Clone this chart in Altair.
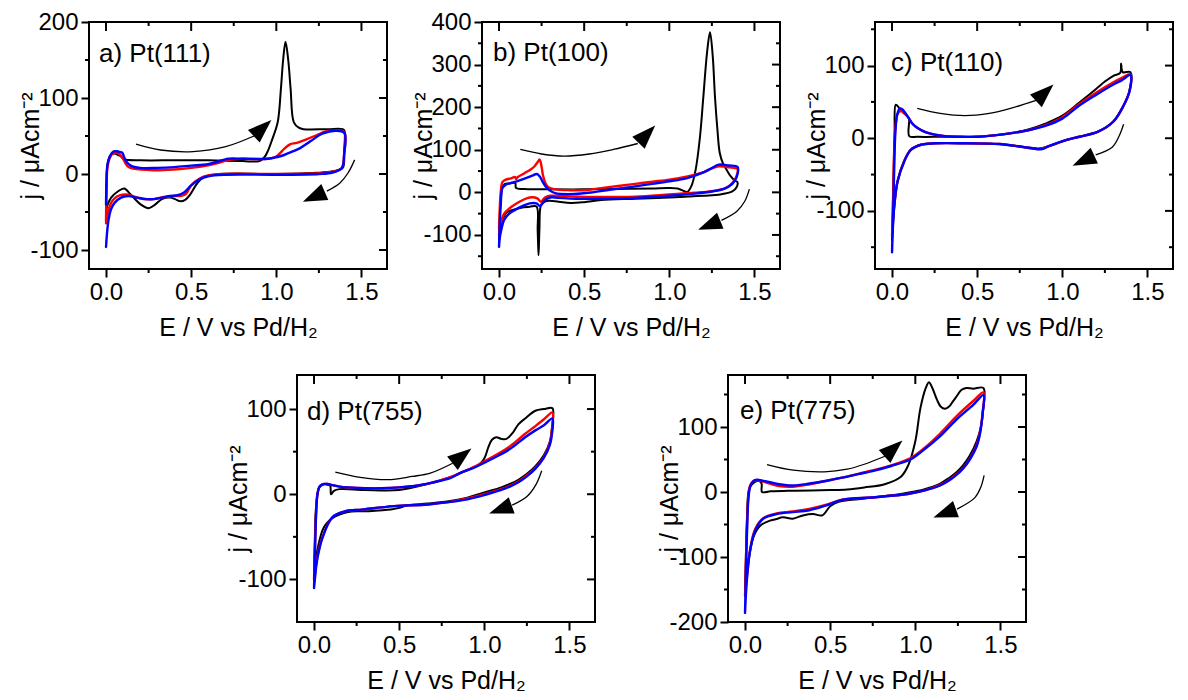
import altair as alt
import pandas as pd

FONT = "Liberation Sans"
W, H = 298, 247

X_DOMAIN = [-0.1, 1.65]
X_MAJOR = [0.0, 0.5, 1.0, 1.5]
X_MINOR = [0.25, 0.75, 1.25]
X_TITLE = "E / V vs Pd/H₂"
Y_TITLE = "j / μAcm⁻²"

PANEL_LABELS = ["a) Pt(111)", "b) Pt(100)", "c) Pt(110)", "d) Pt(755)", "e) Pt(775)"]
Y_DOMAINS = [[-125, 200], [-180, 400], [-180, 160], [-150, 140], [-200, 180]]
Y_MAJOR = [[-100, 0, 100, 200], [-100, 0, 100, 200, 300, 400], [-100, 0, 100],
           [-100, 0, 100], [-200, -100, 0, 100]]
Y_MINOR = [[-50, 50, 150], [-150, -50, 50, 150, 250, 350], [-150, -50, 50, 150],
           [-50, 50], [-150, -50, 50, 150]]

# ---------------- panel a) Pt(111) : (E, j) loops, anodic then cathodic
A_BLACK = [(0.0, -45), (0.003, -10), (0.008, 12), (0.02, 22), (0.035, 26), (0.05, 27), (0.07, 25),
           (0.088, 23), (0.1, 20), (0.107, 19), (0.2, 18), (0.4, 18), (0.6, 18), (0.8, 17), (0.9, 17),
           (0.93, 22), (0.95, 30), (0.975, 45), (1.008, 68), (1.027, 112), (1.04, 150), (1.054, 174),
           (1.07, 150), (1.084, 112), (1.103, 68), (1.132, 61), (1.16, 59), (1.3, 59), (1.39, 59),
           (1.4, 57),
           (1.398, 30), (1.39, 8), (1.33, 3.5), (1.235, 1.5), (1.0, 0), (0.66, 0), (0.567, -5),
           (0.53, -14), (0.494, -27), (0.465, -34), (0.437, -36), (0.405, -33), (0.376, -31),
           (0.328, -33), (0.29, -40), (0.251, -45), (0.203, -40), (0.145, -27), (0.107, -19),
           (0.069, -23), (0.03, -31), (0.01, -40), (0.0, -48)]
A_RED = [(0.0, -62), (0.003, -20), (0.008, 8), (0.02, 20), (0.035, 26), (0.05, 28), (0.065, 28),
         (0.08, 26), (0.1, 20), (0.127, 10), (0.16, 7), (0.28, 5), (0.4, 6), (0.5, 8), (0.567, 10),
         (0.65, 14), (0.72, 18.6), (0.8, 20), (0.95, 20), (1.0, 23), (1.046, 33), (1.08, 39),
         (1.12, 41), (1.18, 46), (1.236, 51), (1.29, 56), (1.33, 57), (1.37, 57), (1.4, 55),
         (1.398, 25), (1.385, 8), (1.33, 3), (1.25, 1), (1.0, 0), (0.7, 0), (0.6, -2), (0.55, -6),
         (0.5, -15), (0.47, -26), (0.437, -29), (0.4, -29), (0.36, -30), (0.32, -31), (0.28, -33),
         (0.22, -33), (0.17, -30), (0.12, -27), (0.08, -28), (0.05, -32), (0.03, -38), (0.012, -50),
         (0.0, -65)]
A_BLUE = [(0.0, -40), (0.003, -8), (0.008, 12), (0.02, 22), (0.035, 28), (0.05, 30), (0.065, 30),
          (0.08, 29), (0.095, 28), (0.105, 23), (0.12, 16), (0.145, 11), (0.2, 8), (0.3, 8), (0.4, 9),
          (0.5, 11), (0.6, 13), (0.72, 20), (0.8, 20), (0.95, 20), (1.0, 22), (1.046, 25), (1.1, 30),
          (1.14, 34), (1.2, 43), (1.27, 53), (1.35, 57), (1.4, 54),
          (1.398, 25), (1.385, 8), (1.33, 2), (1.25, 0), (1.0, -1), (0.7, -1), (0.6, -3), (0.55, -7),
          (0.5, -15), (0.46, -24), (0.42, -28), (0.376, -29), (0.33, -31), (0.28, -33), (0.24, -33),
          (0.18, -31), (0.13, -29), (0.088, -31), (0.05, -38), (0.03, -46), (0.015, -60),
          (0.005, -80), (0.0, -96)]

# ---------------- panel b) Pt(100)
B_BLACK = [(0.0, -110), (0.004, -60), (0.01, -20), (0.02, 12), (0.035, 20), (0.06, 21), (0.095, 22),
           (0.1, 10), (0.15, 8), (0.3, 7), (0.5, 7), (0.7, 8), (0.9, 9), (1.0, 10), (1.057, 8),
           (1.085, 3), (1.106, 1), (1.13, 15), (1.155, 54), (1.18, 130), (1.2, 225), (1.222, 330),
           (1.239, 376), (1.255, 320), (1.268, 225), (1.282, 150), (1.296, 93), (1.315, 68),
           (1.335, 54), (1.36, 38), (1.383, 28), (1.4, 24),
           (1.395, 12), (1.37, 2), (1.3, -5), (1.2, -8), (1.0, -12), (0.8, -15), (0.6, -18),
           (0.5, -23), (0.42, -25), (0.35, -22), (0.29, -20), (0.26, -24), (0.245, -32),
           (0.237, -90), (0.232, -148), (0.227, -90), (0.22, -33), (0.18, -34), (0.13, -36),
           (0.09, -40), (0.05, -46), (0.02, -62), (0.006, -90), (0.0, -112)]
B_RED = [(0.0, -85), (0.004, -40), (0.01, 0), (0.02, 24), (0.04, 30), (0.07, 33), (0.095, 36),
         (0.1, 31), (0.11, 36), (0.15, 45), (0.19, 55), (0.21, 62), (0.225, 70), (0.239, 77),
         (0.25, 60), (0.258, 40), (0.272, 22), (0.29, 12), (0.33, 7), (0.42, 5), (0.5, 5), (0.6, 10),
         (0.7, 15), (0.8, 20), (0.9, 25), (1.0, 30), (1.1, 37), (1.2, 47), (1.25, 56), (1.29, 61),
         (1.35, 59), (1.4, 55),
         (1.395, 38), (1.37, 22), (1.33, 10), (1.25, 3), (1.15, -1), (1.0, -5), (0.8, -10),
         (0.6, -11), (0.45, -10), (0.35, -8), (0.3, -8), (0.27, -12), (0.245, -22), (0.225, -14),
         (0.18, -12), (0.14, -18), (0.1, -27), (0.06, -38), (0.03, -50), (0.015, -65),
         (0.005, -80), (0.0, -100)]
B_BLUE = [(0.0, -128), (0.004, -80), (0.01, -30), (0.02, 10), (0.04, 18), (0.07, 22), (0.1, 25),
          (0.15, 32), (0.2, 40), (0.222, 43), (0.238, 38), (0.255, 26), (0.275, 13), (0.3, 4),
          (0.33, -2), (0.44, -4), (0.55, 0), (0.65, 6), (0.8, 14), (0.9, 20), (1.0, 26), (1.1, 33),
          (1.2, 47), (1.25, 57), (1.29, 65), (1.35, 63), (1.4, 60),
          (1.395, 35), (1.37, 20), (1.32, 8), (1.25, 2), (1.15, -3), (1.0, -8), (0.8, -13),
          (0.6, -15), (0.45, -15), (0.35, -13), (0.3, -12), (0.27, -18), (0.24, -32), (0.22, -26),
          (0.18, -26), (0.14, -32), (0.1, -40), (0.06, -50), (0.03, -65), (0.015, -85),
          (0.005, -105), (0.0, -128)]

# ---------------- panel c) Pt(110)
C_BLACK = [(0.0, -140), (0.004, -100), (0.01, -40), (0.015, 10), (0.021, 46), (0.03, 45), (0.05, 39),
           (0.071, 34), (0.09, 30), (0.1, 27), (0.101, 3), (0.15, 2), (0.3, 2), (0.5, 2), (0.6, 4),
           (0.7, 7), (0.8, 12), (0.9, 20), (1.0, 31), (1.1, 49), (1.2, 68), (1.25, 78), (1.3, 86),
           (1.34, 90), (1.345, 103), (1.355, 91), (1.4, 91),
           (1.395, 66), (1.36, 45), (1.3, 23), (1.21, 9), (1.1, 2), (1.03, -2), (0.92, -11),
           (0.86, -14), (0.77, -12), (0.63, -8), (0.44, -7), (0.25, -7), (0.17, -9), (0.11, -16),
           (0.07, -32), (0.033, -59), (0.014, -91), (0.004, -125), (0.0, -140)]
C_RED = [(0.0, -135), (0.004, -110), (0.008, -60), (0.014, -10), (0.022, 20), (0.032, 33),
         (0.045, 37), (0.06, 37), (0.08, 33), (0.1, 27), (0.12, 20), (0.15, 14), (0.2, 8), (0.3, 3),
         (0.4, 2), (0.5, 2), (0.6, 4), (0.7, 7), (0.8, 11), (0.9, 18), (1.0, 29), (1.1, 47),
         (1.2, 63), (1.3, 77), (1.35, 83), (1.4, 88),
         (1.395, 65), (1.36, 45), (1.3, 23), (1.21, 9), (1.1, 2), (1.03, -2), (0.92, -11),
         (0.86, -15), (0.77, -12), (0.63, -8), (0.44, -7), (0.25, -7), (0.17, -9), (0.11, -16),
         (0.07, -32), (0.033, -59), (0.014, -91), (0.004, -118), (0.0, -135)]
C_BLUE = [(0.0, -157), (0.004, -128), (0.008, -90), (0.013, -40), (0.02, 10), (0.03, 32),
          (0.045, 41), (0.06, 40), (0.08, 34), (0.1, 27), (0.12, 20), (0.15, 14), (0.2, 8), (0.3, 3),
          (0.4, 2), (0.5, 2), (0.6, 4), (0.7, 7), (0.8, 11), (0.9, 17), (1.0, 27), (1.1, 45),
          (1.2, 60), (1.3, 74), (1.35, 80), (1.4, 87),
          (1.395, 65), (1.36, 45), (1.3, 23), (1.21, 9), (1.1, 2), (1.03, -2), (0.92, -11),
          (0.884, -15), (0.77, -12), (0.63, -8), (0.44, -7), (0.25, -7), (0.17, -9), (0.11, -16),
          (0.072, -32), (0.033, -59), (0.014, -91), (0.004, -128), (0.0, -157)]

# ---------------- panel d) Pt(755)
D_BLACK = [(0.0, -95), (0.005, -50), (0.01, -20), (0.02, 0), (0.03, 8), (0.045, 11), (0.06, 12),
           (0.08, 11), (0.095, 10), (0.1, 0), (0.117, 4), (0.15, 6), (0.3, 5), (0.5, 5), (0.665, 12),
           (0.8, 20), (0.86, 25), (0.92, 30), (0.97, 35), (1.0, 42), (1.025, 56), (1.045, 64),
           (1.07, 67), (1.1, 65), (1.13, 65), (1.17, 73), (1.2, 82), (1.24, 89), (1.3, 98),
           (1.35, 100), (1.4, 101),
           (1.398, 80), (1.385, 62), (1.35, 46), (1.3, 33), (1.25, 24), (1.2, 17), (1.15, 12),
           (1.1, 8), (1.0, 2), (0.9, -4), (0.8, -8), (0.665, -11), (0.55, -13), (0.5, -16),
           (0.45, -18), (0.38, -19), (0.3, -20), (0.25, -20), (0.2, -21), (0.15, -24), (0.108, -28),
           (0.07, -35), (0.05, -42), (0.025, -60), (0.012, -75), (0.0, -95)]
D_RED = [(0.0, -100), (0.004, -70), (0.008, -45), (0.013, -18), (0.02, 0), (0.03, 8), (0.045, 11),
         (0.06, 12), (0.08, 12), (0.1, 11), (0.15, 9), (0.2, 8), (0.3, 7), (0.4, 7), (0.5, 8),
         (0.6, 10), (0.7, 14), (0.8, 20), (0.86, 25), (0.95, 33), (1.05, 44), (1.15, 56), (1.24, 71),
         (1.3, 80), (1.35, 88), (1.4, 96),
         (1.398, 78), (1.385, 60), (1.35, 44), (1.3, 31), (1.25, 22), (1.2, 15), (1.15, 10),
         (1.1, 6), (1.0, 0), (0.9, -5), (0.8, -9), (0.665, -12), (0.47, -14), (0.28, -18),
         (0.185, -20), (0.108, -27), (0.05, -50), (0.025, -68), (0.012, -82), (0.005, -95),
         (0.0, -100)]
D_BLUE = [(0.0, -110), (0.004, -80), (0.008, -50), (0.013, -20), (0.02, 0), (0.03, 8), (0.045, 11),
          (0.06, 12), (0.08, 12), (0.1, 11), (0.15, 9), (0.2, 8), (0.3, 7), (0.4, 7), (0.5, 8),
          (0.6, 10), (0.7, 14), (0.8, 19), (0.86, 25), (0.95, 32), (1.05, 42), (1.15, 53),
          (1.24, 67), (1.3, 75), (1.35, 81), (1.4, 89),
          (1.398, 72), (1.385, 58), (1.35, 43), (1.3, 30), (1.25, 21), (1.2, 14), (1.15, 9),
          (1.1, 5), (1.0, -1), (0.9, -6), (0.8, -9), (0.665, -12), (0.47, -14), (0.28, -18),
          (0.185, -20), (0.108, -27), (0.05, -51), (0.025, -70), (0.012, -86), (0.005, -100),
          (0.0, -110)]

# ---------------- panel e) Pt(775)
E_BLACK = [(0.0, -150), (0.005, -100), (0.01, -50), (0.02, 0), (0.03, 8), (0.05, 14), (0.07, 17),
           (0.09, 16), (0.098, 12), (0.1, 0), (0.15, 1), (0.3, 2), (0.5, 3), (0.6, 4), (0.7, 7),
           (0.82, 12), (0.917, 24), (0.96, 42), (1.0, 78), (1.03, 129), (1.06, 159), (1.08, 169),
           (1.1, 160), (1.127, 142), (1.15, 131), (1.175, 128), (1.2, 132), (1.22, 139), (1.25, 150),
           (1.27, 157), (1.3, 160), (1.34, 159), (1.4, 160),
           (1.398, 125), (1.385, 100), (1.36, 78), (1.32, 56), (1.28, 41), (1.24, 30), (1.2, 22),
           (1.146, 13), (1.05, 4), (0.955, -1), (0.8, -7), (0.665, -11), (0.55, -15), (0.5, -22),
           (0.454, -36), (0.4, -34), (0.34, -36), (0.28, -41), (0.223, -39), (0.18, -42),
           (0.146, -44), (0.089, -52), (0.05, -69), (0.015, -115), (0.0, -160)]
E_RED = [(0.0, -160), (0.004, -120), (0.008, -80), (0.013, -40), (0.02, -5), (0.03, 10), (0.05, 17),
         (0.069, 18), (0.09, 17), (0.146, 13), (0.2, 9), (0.28, 8), (0.38, 12), (0.473, 17),
         (0.57, 22), (0.665, 28), (0.76, 34), (0.858, 41), (0.97, 52), (1.05, 67), (1.146, 90),
         (1.24, 116), (1.34, 140), (1.4, 153),
         (1.395, 122), (1.38, 92), (1.36, 72), (1.32, 51), (1.28, 37), (1.24, 27), (1.2, 19),
         (1.146, 11), (1.05, 2), (0.955, -3), (0.762, -8), (0.57, -12), (0.473, -20), (0.377, -26),
         (0.28, -30), (0.185, -33), (0.108, -40), (0.06, -57), (0.03, -88), (0.011, -130),
         (0.0, -160)]
E_BLUE = [(0.0, -186), (0.004, -140), (0.008, -95), (0.013, -50), (0.02, -10), (0.03, 8), (0.05, 17),
          (0.069, 19), (0.09, 18), (0.146, 15), (0.2, 12), (0.28, 10), (0.38, 13), (0.473, 17),
          (0.57, 22), (0.665, 27.5), (0.76, 33), (0.858, 40), (0.97, 50), (1.05, 65), (1.146, 86),
          (1.24, 111), (1.34, 134), (1.4, 149),
          (1.395, 120), (1.38, 90), (1.36, 70), (1.32, 50), (1.28, 36), (1.24, 26), (1.2, 18),
          (1.146, 10), (1.05, 2), (0.955, -3), (0.762, -8), (0.57, -12), (0.473, -21), (0.377, -28),
          (0.28, -31), (0.185, -34), (0.108, -41), (0.06, -59), (0.03, -90), (0.011, -135),
          (0.0, -186)]

# ---------------- sweep-direction arrows (shaft points, head tips, head angles)
A_ARROW_UP = [(0.176, 39.4), (0.32, 31.6), (0.511, 29.5), (0.703, 36.0), (0.872, 50.3)]
A_ARROW_DOWN = [(1.46, 18.6), (1.421, 1.3), (1.374, -11.7), (1.297, -22.5)]
A_HEAD_TIPS = [(0.967, 70.5), (1.144, -37.7)]
A_HEAD_ANGLES = [317, 156]

B_ARROW_UP = [(0.125, 100.7), (0.25, 90), (0.383, 85), (0.53, 90), (0.671, 100.7), (0.815, 114.7)]
B_ARROW_DOWN = [(1.47, 7.7), (1.443, -20.9), (1.397, -44.2), (1.306, -65.8)]
B_HEAD_TIPS = [(0.921, 158.9), (1.162, -89)]
B_HEAD_ANGLES = [314, 158]

C_ARROW_UP = [(0.148, 41.1), (0.283, 34.2), (0.427, 31.1), (0.571, 34.2), (0.696, 41.1), (0.85, 52.5)]
C_ARROW_DOWN = [(1.36, 19.2), (1.333, 2.7), (1.293, -12.3), (1.196, -22.9)]
C_HEAD_TIPS = [(0.943, 73), (1.052, -38.8)]
C_HEAD_ANGLES = [317, 155]

D_ARROW_UP = [(0.125, 25.9), (0.271, 19.8), (0.433, 17.1), (0.577, 20.9), (0.683, 24.8), (0.814, 36.4)]
D_ARROW_DOWN = [(1.337, 27.6), (1.304, 11.6), (1.252, -2.3), (1.164, -12.8)]
D_HEAD_TIPS = [(0.923, 53.8), (1.025, -22.9)]
D_HEAD_ANGLES = [322, 160]

E_ARROW_UP = [(0.129, 42.3), (0.283, 33.6), (0.466, 31), (0.6, 35.1), (0.696, 42.3), (0.821, 55)]
E_ARROW_DOWN = [(1.404, 25.5), (1.385, 7.6), (1.35, -8.7), (1.245, -26.4)]
E_HEAD_TIPS = [(0.923, 78.9), (1.1, -39.2)]
E_HEAD_ANGLES = [318, 160]

# layout / style (pixels)
LABEL_POS = [(10, 40), (11, 39), (16, 49), (10, 45), (12, 44)]
ARROW_PATH = "M1,0L-1,-0.72L-1,0.72Z"
SERIES_STYLE = [("#000000", 2.0), ("#ff0000", 2.4), ("#0000ff", 2.4)]


def panel(idx, curves, arrow_up, arrow_down, tips, angles):
    xs = alt.Scale(domain=X_DOMAIN, nice=False, zero=False)
    ys = alt.Scale(domain=Y_DOMAINS[idx], nice=False, zero=False)
    xaxis = alt.Axis(values=X_MAJOR, format=".1f", title=X_TITLE, minExtent=40, maxExtent=40)
    yaxis = alt.Axis(values=Y_MAJOR[idx], labelExpr="'' + datum.value", title=Y_TITLE,
                     minExtent=40, maxExtent=40)

    def X(f):
        return alt.X(f, type="quantitative", scale=xs, axis=xaxis)

    def Y(f):
        return alt.Y(f, type="quantitative", scale=ys, axis=yaxis)

    layers = []
    for k, pts in enumerate(curves):
        color, sw = SERIES_STYLE[k]
        df = pd.DataFrame(pts, columns=["x", "y"])
        df["i"] = range(len(df))
        layers.append(
            alt.Chart(df).mark_line(color=color, strokeWidth=sw, interpolate="catmull-rom",
                                    strokeJoin="round", strokeCap="round").encode(
                x=X("x"), y=Y("y"), order=alt.Order("i:Q"))
        )
    # arrows
    rows = []
    for a, pts in enumerate([arrow_up, arrow_down]):
        for i, (x, y) in enumerate(pts):
            rows.append({"a": a, "i": i, "x": x, "y": y})
    layers.append(
        alt.Chart(pd.DataFrame(rows)).mark_line(color="black", strokeWidth=1.3,
                                                interpolate="catmull-rom").encode(
            x=X("x"), y=Y("y"), detail="a:N", order=alt.Order("i:Q"))
    )
    ends = [arrow_up[-1], arrow_down[-1]]
    heads = pd.DataFrame({
        "x": [(e[0] + t[0]) / 2 for e, t in zip(ends, tips)],
        "y": [(e[1] + t[1]) / 2 for e, t in zip(ends, tips)],
        "ang": angles,
    })
    layers.append(
        alt.Chart(heads).mark_point(shape=ARROW_PATH, filled=True, size=576, color="black",
                                    opacity=1, strokeWidth=0).encode(
            x=X("x"), y=Y("y"), angle=alt.Angle("ang:Q", scale=None))
    )

    # tick marks not provided by the axes
    def xrule(vals, y0, y1):
        return alt.Chart(pd.DataFrame({"v": vals})).mark_rule(color="black", strokeWidth=2).encode(
            x=X("v"), y=alt.value(y0), y2=alt.value(y1))

    def yrule(vals, x0, x1):
        return alt.Chart(pd.DataFrame({"v": vals})).mark_rule(color="black", strokeWidth=2).encode(
            y=Y("v"), x=alt.value(x0), x2=alt.value(x1))

    layers += [
        xrule(X_MINOR, H, H + 4),
        xrule(X_MAJOR, 0, 9),
        xrule(X_MINOR, 0, 4),
        yrule(Y_MINOR[idx], 0, -4),
        yrule(Y_MAJOR[idx], W, W - 8),
        yrule(Y_MINOR[idx], W, W - 4),
    ]
    lx, ly = LABEL_POS[idx]
    layers.append(
        alt.Chart(pd.DataFrame({"t": [PANEL_LABELS[idx]]})).mark_text(
            align="left", baseline="alphabetic", font=FONT, fontSize=26, color="black").encode(
            text="t:N", x=alt.value(lx), y=alt.value(ly))
    )
    return alt.layer(*layers).properties(width=W, height=H)


pa = panel(0, [A_BLACK, A_RED, A_BLUE], A_ARROW_UP, A_ARROW_DOWN, A_HEAD_TIPS, A_HEAD_ANGLES)
pb = panel(1, [B_BLACK, B_RED, B_BLUE], B_ARROW_UP, B_ARROW_DOWN, B_HEAD_TIPS, B_HEAD_ANGLES)
pc = panel(2, [C_BLACK, C_RED, C_BLUE], C_ARROW_UP, C_ARROW_DOWN, C_HEAD_TIPS, C_HEAD_ANGLES)
pdd = panel(3, [D_BLACK, D_RED, D_BLUE], D_ARROW_UP, D_ARROW_DOWN, D_HEAD_TIPS, D_HEAD_ANGLES)
pe = panel(4, [E_BLACK, E_RED, E_BLUE], E_ARROW_UP, E_ARROW_DOWN, E_HEAD_TIPS, E_HEAD_ANGLES)

spacer = alt.Chart(pd.DataFrame({"v": [0]})).mark_point(opacity=0, size=1).encode(
    x=alt.value(0), y=alt.value(0)
).properties(width=75, height=H, view=alt.ViewBackground(stroke="transparent"))

row1 = alt.hconcat(pa, pb, pc, spacing=95, bounds="flush")
row2 = alt.hconcat(spacer, pdd, pe, spacing=133, bounds="flush")

chart = alt.vconcat(row1, row2, spacing=32).properties(
    padding={"left": 9, "top": 1, "right": 2, "bottom": 0}
).configure_view(
    stroke="black", strokeWidth=2
).configure_axis(
    labelFont=FONT, labelFontSize=24, labelColor="black", labelPadding=3,
    labelFlush=False, labelOverlap=False,
    titleFont=FONT, titleFontSize=25, titleFontWeight="normal", titleColor="black",
    titlePadding=6, tickColor="black", tickWidth=2, tickSize=8, domain=False, grid=False,
)

chart.save("out.html", embed_options={"renderer": "svg", "actions": False})
